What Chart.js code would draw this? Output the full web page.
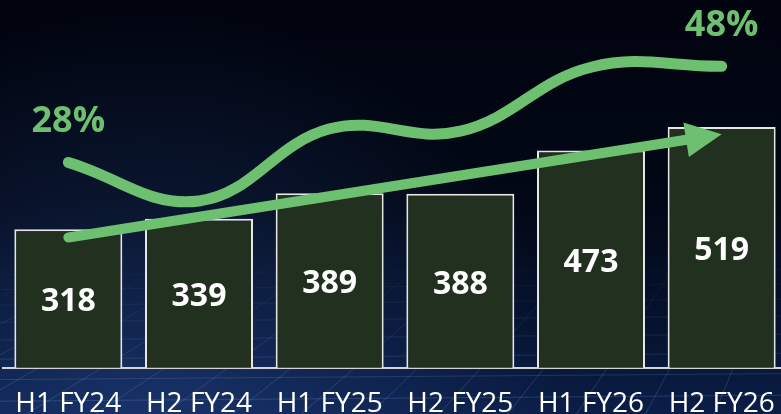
<!DOCTYPE html>
<html>
<head>
<meta charset="utf-8">
<script src="https://cdn.jsdelivr.net/npm/chart.js@4.4.0/dist/chart.umd.min.js"></script>
<style>
  html, body { margin: 0; padding: 0; background: #020612; overflow: hidden; width: 781px; height: 414px; }
  #grafico { display: block; position: absolute; left: 0; top: 0; }
</style>
</head>
<body>
<canvas id="grafico" width="787" height="441"></canvas>
<script>
const periodos = ["H1 FY24", "H2 FY24", "H1 FY25", "H2 FY25", "H1 FY26", "H2 FY26"];
const receita = [318, 339, 389, 388, 473, 519];
const margem = [28, 20, 35, 34.5, 47.8, 48];
const rotulosMargem = ["28%", "", "", "", "", "48%"];
const tendencia = [302, null, null, null, null, 505];

const VERDE = "#6cc070";

// fundo azul escuro com a grade em perspectiva na parte de baixo
const fundo = {
  id: "fundo",
  beforeDraw(chart) {
    const { ctx, width } = chart;
    const height = 414;
    ctx.save();
    const g = ctx.createLinearGradient(0, 0, 0, height);
    g.addColorStop(0, "#01040f");
    g.addColorStop(0.5, "#020816");
    g.addColorStop(0.8, "#061330");
    g.addColorStop(1, "#0b1e48");
    ctx.fillStyle = g;
    ctx.fillRect(0, 0, width, chart.height);

    const brilho = ctx.createRadialGradient(150, 430, 10, 150, 430, 420);
    brilho.addColorStop(0, "rgba(50,90,170,0.35)");
    brilho.addColorStop(1, "rgba(50,90,170,0)");
    ctx.fillStyle = brilho;
    ctx.fillRect(0, 0, width, chart.height);

    ctx.beginPath();
    ctx.rect(0, 250, width, chart.height - 250);
    ctx.clip();
    const traco = ctx.createLinearGradient(0, 250, 0, height);
    traco.addColorStop(0, "rgba(140,180,255,0)");
    traco.addColorStop(1, "rgba(140,180,255,0.22)");
    ctx.strokeStyle = traco;
    ctx.lineWidth = 1;
    let y = 262, passo = 12;
    while (y < height) {
      ctx.beginPath();
      ctx.moveTo(0, y);
      ctx.lineTo(width, y - 6);
      ctx.stroke();
      passo += 1.2;
      y += passo;
    }
    const fuga = { x: 950, y: -150 };
    for (let x = -900; x < width + 200; x += 70) {
      ctx.beginPath();
      ctx.moveTo(x, height + 10);
      ctx.lineTo(fuga.x, fuga.y);
      ctx.stroke();
    }
    ctx.restore();
  },
};

// valores dentro das barras, percentuais sobre a curva e a seta de tendência
const rotulos = {
  id: "rotulos",
  afterDatasetsDraw(chart) {
    const { ctx } = chart;
    ctx.save();

    const barras = chart.getDatasetMeta(1).data;
    ctx.fillStyle = "#ffffff";
    ctx.font = "bold 32px 'Open Sans'";
    ctx.textAlign = "center";
    ctx.textBaseline = "middle";
    barras.forEach((barra, i) => {
      ctx.fillText(receita[i], barra.x, (barra.y + barra.base) / 2 - 8);
    });

    const curva = chart.getDatasetMeta(0).data;
    ctx.fillStyle = VERDE;
    ctx.font = "bold 36px 'Open Sans'";
    curva.forEach((ponto, i) => {
      if (rotulosMargem[i]) ctx.fillText(rotulosMargem[i], ponto.x, ponto.y - 41);
    });

    const seta = chart.getDatasetMeta(2).data;
    const ini = seta[0];
    const fim = seta[seta.length - 1];
    const dx = fim.x - ini.x;
    const dy = fim.y - ini.y;
    const comp = Math.hypot(dx, dy);
    const ux = dx / comp, uy = dy / comp;
    const cabeca = 36, meia = 17.5;
    const bx = fim.x - ux * cabeca, by = fim.y - uy * cabeca;

    ctx.strokeStyle = VERDE;
    ctx.fillStyle = VERDE;
    ctx.lineWidth = 10;
    ctx.lineCap = "round";
    ctx.beginPath();
    ctx.moveTo(ini.x, ini.y);
    ctx.lineTo(bx + ux * 2, by + uy * 2);
    ctx.stroke();

    ctx.beginPath();
    ctx.moveTo(fim.x, fim.y);
    ctx.lineTo(bx - uy * meia, by + ux * meia);
    ctx.lineTo(bx + uy * meia, by - ux * meia);
    ctx.closePath();
    ctx.fill();

    ctx.restore();
  },
};

new Chart(document.getElementById("grafico"), {
  data: {
    labels: periodos,
    datasets: [
      {
        type: "line",
        data: margem,
        yAxisID: "yMargem",
        borderColor: VERDE,
        borderWidth: 11,
        borderCapStyle: "round",
        tension: 0.4,
        pointRadius: 0,
        fill: false,
      },
      {
        type: "bar",
        data: receita,
        yAxisID: "y",
        backgroundColor: "#22301f",
        borderColor: "#e6e6e6",
        borderWidth: 2,
        categoryPercentage: 1,
        barPercentage: 0.8265,
      },
      {
        type: "line",
        data: tendencia,
        yAxisID: "y",
        showLine: false,
        spanGaps: true,
        pointRadius: 0,
      },
    ],
  },
  options: {
    responsive: false,
    animation: false,
    devicePixelRatio: 1,
    layout: { autoPadding: false, padding: { left: 3, top: 10, right: 0, bottom: 0 } },
    plugins: {
      legend: { display: false },
      tooltip: { enabled: false },
    },
    scales: {
      x: {
        grid: { display: false, drawTicks: false },
        border: { display: true, color: "#d4d4d4", width: 2 },
        ticks: {
          color: "#ffffff",
          font: { family: "'Open Sans'", size: 28, lineHeight: 1.9 },
          padding: 10,
          maxRotation: 0,
          autoSkip: false,
        },
      },
      y: { display: false, min: 46, max: 749 },
      yMargem: { display: false, min: -14.7, max: 59.7 },
    },
  },
  plugins: [fundo, rotulos],
});
</script>
</body>
</html>
